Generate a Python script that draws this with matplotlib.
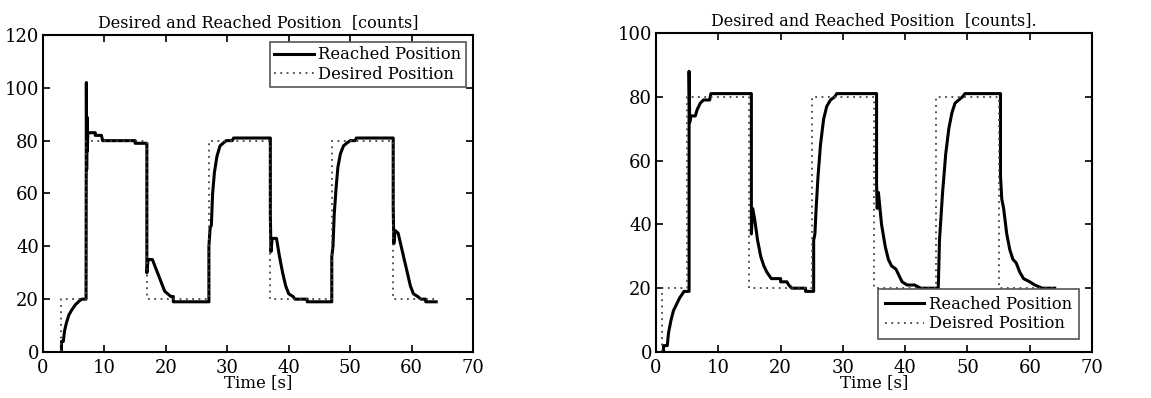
import matplotlib.pyplot as plt
import numpy as np

# left run: reached position (t, counts)
left_t = [3.0, 3.0, 3.3, 3.5, 3.8, 4.2, 4.7, 5.3, 6.0, 6.3, 7.0, 7.05, 7.1, 7.15, 7.2, 7.3,
          8.5, 8.5, 9.5, 9.7, 15.0, 15.0, 16.9, 16.9, 17.1, 17.8, 18.3, 18.8, 19.3, 19.8,
          20.3, 20.8, 21.2, 21.2, 27.0, 27.0, 27.2, 27.4, 27.6, 27.9, 28.3, 28.8, 29.3,
          29.8, 30.8, 31.0, 37.0, 37.0, 37.1, 37.3, 38.0, 38.5, 39.0, 39.5, 40.0, 40.7,
          41.0, 43.0, 43.0, 47.0, 47.0, 47.2, 47.4, 47.7, 48.0, 48.4, 48.9, 49.4, 50.0,
          50.8, 51.0, 57.0, 57.0, 57.1, 57.3, 57.8, 58.3, 58.8, 59.3, 59.8, 60.3, 61.0,
          61.5, 62.3, 62.3, 64.0]
left_v = [0, 4, 4, 8, 11, 14, 16, 18, 19.5, 20, 20, 102, 69, 89, 76, 83,
          83, 82, 82, 80, 80, 79, 79, 30, 35, 35, 32, 29, 26, 23,
          22, 21, 21, 19, 19, 40, 47, 48, 60, 68, 74, 78, 79,
          80, 80, 81, 81, 52, 38, 43, 43, 36, 30, 25, 22, 21,
          20, 20, 19, 19, 36, 40, 52, 62, 70, 75, 78, 79, 80,
          80, 81, 81, 55, 41, 46, 45, 40, 35, 30, 25, 22, 21,
          20, 20, 19, 19]
left_des_t = [0, 3, 3, 7, 7, 17, 17, 27, 27, 37, 37, 47, 47, 57, 57, 64]
left_des_v = [0, 0, 20, 20, 80, 80, 20, 20, 80, 80, 20, 20, 80, 80, 20, 20]

# right run
right_t = [1.2, 1.2, 1.8, 2.0, 2.4, 2.8, 3.3, 3.8, 4.5, 5.3, 5.3, 5.4, 5.6, 6.3, 6.6, 7.1,
           7.6, 8.6, 8.8, 15.3, 15.3, 15.5, 15.8, 16.3, 16.8, 17.3, 17.8, 18.5, 20.0,
           20.0, 21.0, 21.3, 21.8, 24.0, 24.0, 25.3, 25.3, 25.5, 25.7, 26.0, 26.4, 26.9,
           27.4, 28.0, 28.7, 29.0, 35.4, 35.4, 35.5, 35.7, 36.2, 36.8, 37.3, 37.8, 38.5,
           39.0, 39.5, 40.3, 41.5, 42.5, 45.3, 45.4, 45.5, 46.0, 46.5, 47.0, 47.5, 48.0,
           48.6, 49.2, 49.6, 55.3, 55.3, 55.5, 55.8, 56.3, 56.8, 57.3, 57.8, 58.4, 59.0,
           60.0, 60.8, 62.0, 64.0]
right_v = [0, 2, 2, 6, 10, 13, 15, 17, 19, 19, 88, 72, 74, 74, 76, 78,
           79, 79, 81, 81, 37, 45, 42, 35, 30, 27, 25, 23, 23,
           22, 22, 21, 20, 20, 19, 19, 35, 37, 45, 55, 65, 73,
           77, 79, 80, 81, 81, 53, 45, 50, 40, 33, 29, 27, 26,
           24, 22, 21, 21, 20, 20, 27, 35, 50, 62, 70, 75, 78,
           79, 80, 81, 81, 55, 48, 45, 37, 32, 29, 28, 25, 23,
           22, 21, 20, 20]
right_des_t = [0, 1, 1, 5, 5, 15, 15, 25, 25, 35, 35, 45, 45, 55, 55, 64]
right_des_v = [0, 0, 20, 20, 80, 80, 20, 20, 80, 80, 20, 20, 80, 80, 20, 20]

plt.rcParams['font.family'] = ['DejaVu Serif']
fig = plt.figure(figsize=(11.51, 3.98), dpi=100)
ax1 = fig.add_axes([0.0374, 0.1156, 0.3736, 0.7965])
ax2 = fig.add_axes([0.570, 0.1156, 0.3788, 0.8015])

def draw(ax, t, v, dt, dv, ymax, title, des_label, loc, bpad, bax):
    ax.plot(t, v, color='black', lw=2.2, label='Reached Position')
    ax.plot(dt, dv, color='#3a4450', lw=1.3, ls=(0, (1, 2.5)), label=des_label)
    ax.set_xlim(0, 70)
    ax.set_ylim(0, ymax)
    ax.set_xticks(np.arange(0, 71, 10))
    ax.set_yticks(np.arange(0, ymax + 1, 20))
    ax.tick_params(direction='in', top=True, right=True, length=5, width=1.2,
                   labelsize=13)
    ax.tick_params(axis='x', pad=5)
    ax.tick_params(axis='y', pad=3)
    for s in ax.spines.values():
        s.set_linewidth(1.5)
    ax.set_title(title, fontsize=11.5, pad=6)
    ax.set_xlabel('Time [s]', fontsize=12, labelpad=-2)
    leg = ax.legend(loc=loc, fontsize=11.8, fancybox=False, framealpha=1,
                    borderpad=bpad, handlelength=2.4, handletextpad=0.3,
                    labelspacing=0.15, borderaxespad=bax)
    leg.get_frame().set_edgecolor('#555555')
    leg.get_frame().set_linewidth(1.2)

draw(ax1, left_t, left_v, left_des_t, left_des_v, 120,
     'Desired and Reached Position  [counts]', 'Desired Position', 'upper right',
     0.25, 0.45)
draw(ax2, right_t, right_v, right_des_t, right_des_v, 100,
     'Desired and Reached Position  [counts].', 'Deisred Position', 'lower right',
     0.4, 0.8)

fig.savefig('out.png', dpi=100)
